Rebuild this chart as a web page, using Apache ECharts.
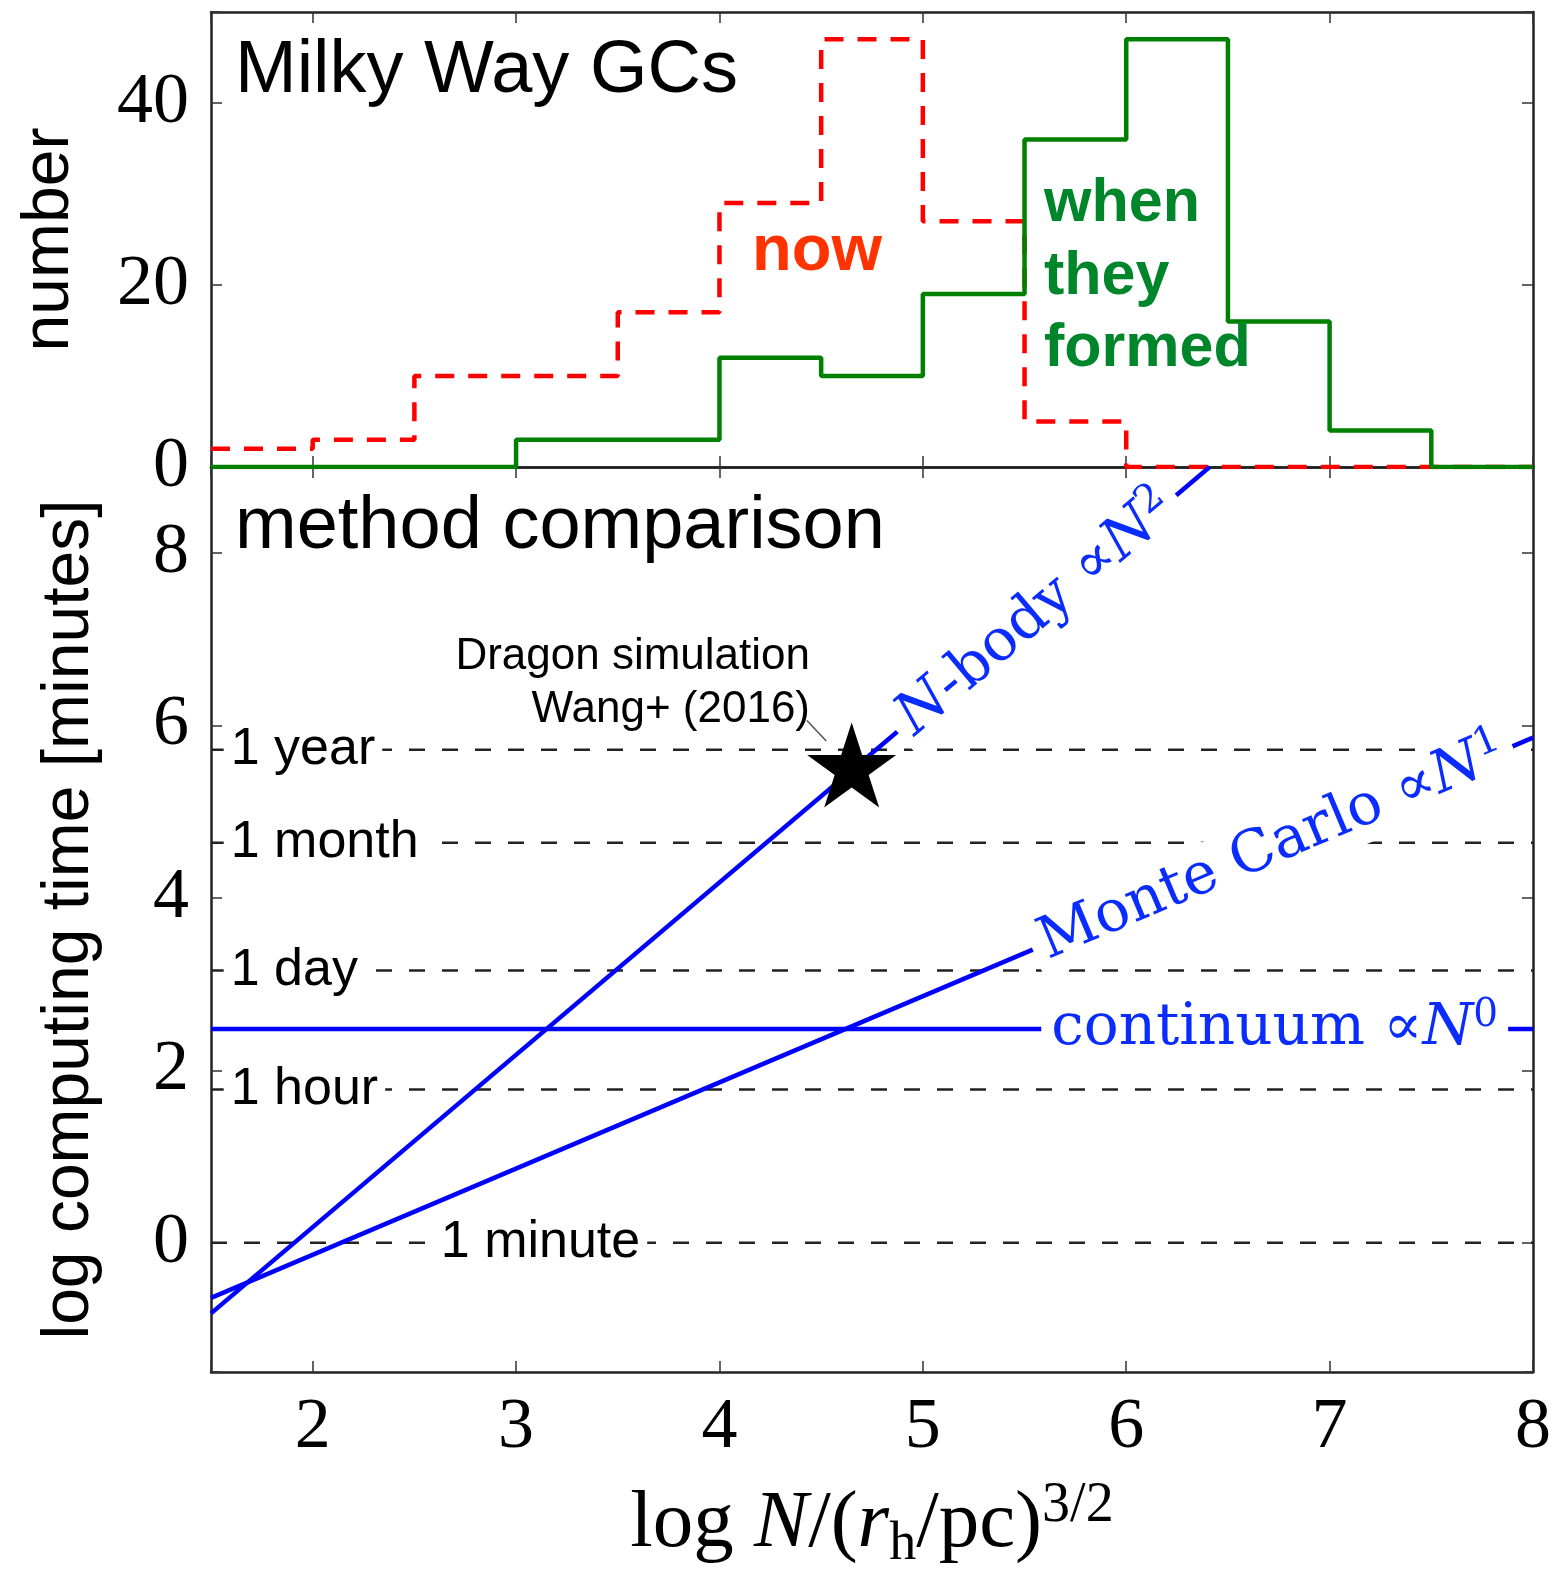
<!DOCTYPE html>
<html>
<head>
<meta charset="utf-8">
<title>Milky Way GCs and method comparison</title>
<script src="https://cdn.jsdelivr.net/npm/echarts@6/dist/echarts.min.js"></script>
<style>
  html, body { margin: 0; padding: 0; background: #ffffff; }
  #chart { width: 1553px; height: 1571px; }
</style>
</head>
<body>
<div id="chart"></div>
<script>
// ---- histogram: log N/(r_h/pc)^{3/2} of Milky Way globular clusters ----
const binEdges = [1.5, 2, 2.5, 3, 3.5, 4, 4.5, 5, 5.5, 6, 6.5, 7, 7.5, 8];
const countsNow = [2, 3, 10, 10, 17, 29, 47, 27, 5, 0, 0, 0, 0];
const countsFormed = [0, 0, 0, 3, 3, 12, 10, 19, 36, 47, 16, 4, 0];

// ---- wall-clock reference levels, log10(minutes) ----
const timeNames = ['1 minute', '1 hour', '1 day', '1 month', '1 year'];
const timeLogMinutes = [0, 1.778, 3.158, 4.640, 5.720];
const timeLabelX = [3.12, 1.5625, 1.5625, 1.5625, 1.5625];

// ---- computing-time scalings (end points of each line) ----
const nbodyLine = [[1.5, -0.82], [6.41, 9.0]];
const monteCarloLine = [[1.5, -0.64], [8.0, 5.86]];
const continuumLine = [[1.5, 2.48], [8.0, 2.48]];

// where each scaling is named along its line
const nbodyLabelAt = [5.56, 7.30];
const monteCarloLabelAt = [6.72, 4.58];
const continuumLabelAt = [6.73, 2.48];

// Dragon simulation, Wang+ (2016)
const dragonPoint = [4.65, 5.49];
const dragonPointer = [[4.43, 6.06], [4.525, 5.82]];

// axis ranges and tick labels
const xRange = [1.5, 8];
const xTickLabels = ['2', '3', '4', '5', '6', '7', '8'];
const countRange = [0, 50];
const countTickLabels = ['0', '20', '40'];
const timeRange = [-1.5, 9];
const timeTickLabels = ['0', '2', '4', '6', '8'];

// ---------------------------------------------------------------
const SERIF = '"Liberation Serif", "Times New Roman", serif';
const SANS = '"Liberation Sans", Arial, Helvetica, sans-serif';
const MATH = '"DejaVu Serif", serif';
const BLUE = '#0000ff';
const BLUE_TEXT = '#0a2cff';

function stepData(counts) {
  const pts = counts.map((c, i) => [binEdges[i], c]);
  pts.push([binEdges[binEdges.length - 1], counts[counts.length - 1]]);
  return pts;
}

function starPath() {
  const pts = [];
  for (let k = 0; k < 10; k++) {
    const r = k % 2 === 0 ? 100 : 38.1966;
    const a = -Math.PI / 2 + k * Math.PI / 5;
    pts.push((r * Math.cos(a)).toFixed(2) + ',' + (r * Math.sin(a)).toFixed(2));
  }
  return 'path://M' + pts.join(' L') + ' Z';
}

const labelOf = (list) => (v) => {
  const s = String(Math.round(v * 1000) / 1000);
  return list.indexOf(s) >= 0 ? s : '';
};

const axisLine = { show: true, onZero: false, lineStyle: { color: '#222', width: 2.5 } };
const axisTick = { show: true, inside: true, length: 11, lineStyle: { color: '#333', width: 1.5 } };
const tickFont = { fontFamily: SERIF, fontSize: 72, color: '#000' };

function xAxisDef(grid, pos, withLabels) {
  return {
    type: 'value', gridIndex: grid, position: pos,
    min: xRange[0], max: xRange[1], splitNumber: 6,
    axisLine: axisLine, axisTick: axisTick, splitLine: { show: false },
    axisLabel: withLabels
      ? Object.assign({ show: true, margin: 20, formatter: labelOf(xTickLabels) }, tickFont)
      : { show: false }
  };
}

function yAxisDef(grid, pos, range, ticks, extra, withLabels) {
  return Object.assign({
    type: 'value', gridIndex: grid, position: pos,
    min: range[0], max: range[1],
    axisLine: axisLine, axisTick: axisTick, splitLine: { show: false },
    axisLabel: withLabels
      ? Object.assign({ show: true, margin: 22, formatter: labelOf(ticks) }, tickFont)
      : { show: false }
  }, extra);
}

const chart = echarts.init(document.getElementById('chart'), null, { renderer: 'canvas' });

const mathRich = (size) => ({
  t: { fontFamily: MATH, fontSize: size, color: BLUE_TEXT, lineHeight: 66 },
  m: { fontFamily: MATH, fontSize: size, color: BLUE_TEXT, lineHeight: 66 },
  i: { fontFamily: MATH, fontStyle: 'italic', fontSize: size, color: BLUE_TEXT, lineHeight: 66 },
  s: { fontFamily: MATH, fontSize: Math.round(size * 0.68), color: BLUE_TEXT, verticalAlign: 'top', lineHeight: 44 }
});

const timeLineSeries = timeLogMinutes.map((v, i) => ({
  type: 'line', name: timeNames[i], xAxisIndex: 2, yAxisIndex: 2,
  data: [[xRange[0], v], [xRange[1], v]],
  showSymbol: false, silent: true, z: 2,
  lineStyle: { color: '#222', width: 2.5, type: [16, 17] }
}));

const option = {
  animation: false,
  backgroundColor: '#ffffff',
  grid: [
    { left: 211, top: 12, width: 1322, height: 455, containLabel: false, outerBoundsMode: 'none' },
    { left: 211, top: 467, width: 1322, height: 905, containLabel: false, outerBoundsMode: 'none' }
  ],
  xAxis: [
    xAxisDef(0, 'bottom', false),
    xAxisDef(0, 'top', false),
    Object.assign(xAxisDef(1, 'bottom', true), {
      name: '{r|log }{i|N}{r|/(}{i|r}{sub|h}{r|/pc)}{sup|3/2}',
      nameLocation: 'middle', nameGap: 106,
      nameTextStyle: {
        rich: {
          r: { fontFamily: SERIF, fontSize: 81, color: '#000', lineHeight: 94 },
          i: { fontFamily: SERIF, fontStyle: 'italic', fontSize: 81, color: '#000', lineHeight: 94 },
          sub: { fontFamily: SERIF, fontSize: 54, color: '#000', verticalAlign: 'bottom', lineHeight: 44 },
          sup: { fontFamily: SERIF, fontSize: 56, color: '#000', verticalAlign: 'top', lineHeight: 40 }
        }
      }
    }),
    xAxisDef(1, 'top', false)
  ],
  yAxis: [
    yAxisDef(0, 'left', countRange, countTickLabels, {
      interval: 20, name: 'number', nameLocation: 'middle', nameGap: 128,
      nameTextStyle: { fontFamily: SANS, fontSize: 66, color: '#000' }
    }, true),
    yAxisDef(0, 'right', countRange, countTickLabels, { interval: 20 }, false),
    yAxisDef(1, 'left', timeRange, timeTickLabels, {
      splitNumber: 5, name: 'log computing time [minutes]', nameLocation: 'middle', nameGap: 108,
      nameTextStyle: { fontFamily: SANS, fontSize: 66, color: '#000' }
    }, true),
    yAxisDef(1, 'right', timeRange, timeTickLabels, { splitNumber: 5 }, false)
  ],
  series: [
    {
      type: 'line', name: 'now', xAxisIndex: 0, yAxisIndex: 0,
      data: stepData(countsNow), step: 'end', showSymbol: false, z: 3,
      lineStyle: { color: '#ff0000', width: 4.5, type: [19, 14] }
    },
    {
      type: 'line', name: 'when they formed', xAxisIndex: 0, yAxisIndex: 0,
      data: stepData(countsFormed), step: 'end', showSymbol: false, z: 4,
      lineStyle: { color: '#008000', width: 4.5 }
    },
    ...timeLineSeries,
    {
      type: 'scatter', name: 'time levels', xAxisIndex: 2, yAxisIndex: 2,
      symbolSize: 0.1, itemStyle: { color: '#ffffff', opacity: 1 }, silent: true, z: 5,
      emphasis: { disabled: true },
      data: timeNames.map((n, i) => ({
        name: n, value: [timeLabelX[i], timeLogMinutes[i]],
        label: { align: i === 0 ? 'center' : 'left' }
      })),
      label: {
        show: true, position: 'inside', verticalAlign: 'middle', opacity: 1,
        formatter: (p) => p.name,
        fontFamily: SANS, fontSize: 52, color: '#000',
        backgroundColor: '#ffffff', padding: [0, 7]
      }
    },
    {
      type: 'line', name: 'N-body', xAxisIndex: 2, yAxisIndex: 2, data: nbodyLine,
      showSymbol: false, z: 6, lineStyle: { color: BLUE, width: 4.5 }
    },
    {
      type: 'line', name: 'Monte Carlo', xAxisIndex: 2, yAxisIndex: 2, data: monteCarloLine,
      showSymbol: false, z: 6, lineStyle: { color: BLUE, width: 4.5 }
    },
    {
      type: 'line', name: 'continuum', xAxisIndex: 2, yAxisIndex: 2, data: continuumLine,
      showSymbol: false, z: 6, lineStyle: { color: BLUE, width: 4.5 }
    },
    {
      type: 'line', name: 'Dragon pointer', xAxisIndex: 2, yAxisIndex: 2, data: dragonPointer,
      showSymbol: false, z: 7, silent: true, lineStyle: { color: '#555', width: 1.5 }
    },
    {
      type: 'scatter', name: 'Dragon simulation', xAxisIndex: 2, yAxisIndex: 2,
      data: [dragonPoint], symbol: starPath(), symbolSize: [89, 85], symbolOffset: [0, -4.5],
      itemStyle: { color: '#000', opacity: 1 }, z: 8, emphasis: { disabled: true }
    },
    {
      type: 'scatter', name: 'scaling labels', xAxisIndex: 2, yAxisIndex: 2,
      symbolSize: 0.1, itemStyle: { color: '#ffffff', opacity: 1 }, silent: true, z: 9,
      emphasis: { disabled: true },
      data: [
        { value: nbodyLabelAt, label: { rotate: 40.2, formatter: '{i|N}{t|-body }{m|\u221D}{i|N}{s|2}' } },
        { value: monteCarloLabelAt, label: { rotate: 22.9, formatter: '{t|Monte Carlo }{m|\u221D}{i|N}{s|1}' } },
        { value: continuumLabelAt, label: { rotate: 0, formatter: '{t|continuum }{m|\u221D}{i|N}{s|0}' } }
      ],
      label: {
        show: true, position: 'inside', align: 'center', verticalAlign: 'middle', opacity: 1,
        backgroundColor: '#ffffff', padding: [0, 10],
        rich: mathRich(58)
      }
    }
  ],
  graphic: [
    { type: 'text', x: 235, y: 72, z: 20, style: { text: 'Milky Way GCs', fontFamily: SANS, fontSize: 74, fill: '#000', verticalAlign: 'middle' } },
    { type: 'text', x: 235, y: 528, z: 20, style: { text: 'method comparison', fontFamily: SANS, fontSize: 74, fill: '#000', verticalAlign: 'middle' } },
    { type: 'text', x: 752, y: 252, z: 20, style: { text: 'now', fontFamily: SANS, fontWeight: 'bold', fontSize: 65, fill: '#ff3300', verticalAlign: 'middle' } },
    { type: 'text', x: 1044, y: 277, z: 20, style: { text: 'when\nthey\nformed', fontFamily: SANS, fontWeight: 'bold', fontSize: 61, lineHeight: 72.5, fill: '#00862a', verticalAlign: 'middle' } },
    { type: 'text', x: 810, y: 683, z: 20, style: { text: 'Dragon simulation\nWang+ (2016)', fontFamily: SANS, fontSize: 44, lineHeight: 53, fill: '#000', align: 'right', verticalAlign: 'middle' } }
  ]
};

chart.setOption(option);
</script>
</body>
</html>
